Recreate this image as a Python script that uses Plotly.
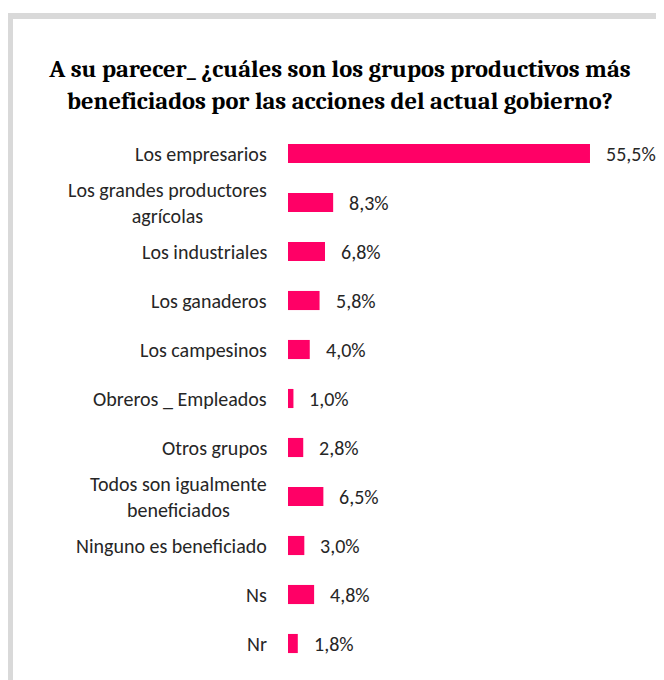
import plotly.graph_objects as go

categorias = [
    "Los empresarios",
    "Los grandes productores<br>agrícolas",
    "Los industriales",
    "Los ganaderos",
    "Los campesinos",
    "Obreros _ Empleados",
    "Otros grupos",
    "Todos son igualmente<br>beneficiados",
    "Ninguno es beneficiado",
    "Ns",
    "Nr",
]
porcentajes = [55.5, 8.3, 6.8, 5.8, 4.0, 1.0, 2.8, 6.5, 3.0, 4.8, 1.8]
etiquetas = [f"{v:.1f}%".replace(".", ",") for v in porcentajes]

# la página añade 8px de margen al cuerpo; la figura se reduce para caber
OFF = 8
W, H = 664 - OFF, 680 - OFF
ML, MT = 288 - OFF, 129 - OFF
MR = 6
MB = H - (668 - OFF)
PW, PH = W - ML - MR, H - MT - MB

ROSA = "#FF0066"
GRIS = "#D9D9D9"
TXT = "#262626"
FUENTE = "Carlito, Lato, sans-serif"


def px_x(px):
    # px en coordenadas de la página
    return (px - OFF - ML) / PW


def px_y(py):
    return (H - MB - (py - OFF)) / PH


fig = go.Figure()
fig.add_trace(go.Bar(
    x=porcentajes, y=categorias, orientation="h",
    marker=dict(color=ROSA, line=dict(width=0)),
    hoverinfo="x+y",
))

# etiquetas de categoría (centradas en varias líneas)
for c in categorias:
    fig.add_annotation(
        x=0, y=c, xref="x", yref="y", text=c, showarrow=False,
        xanchor="right", xshift=-19, align="center",
        font=dict(family=FUENTE, size=20, color=TXT),
    )

# valores
for c, v, t in zip(categorias, porcentajes, etiquetas):
    fig.add_annotation(
        x=v, y=c, xref="x", yref="y", text=t, showarrow=False,
        xanchor="left", xshift=14,
        font=dict(family=FUENTE, size=20, color=TXT),
    )

# marco gris (arriba e izquierda)
fig.add_shape(type="rect", xref="paper", yref="paper",
              x0=px_x(7), x1=px_x(680), y0=px_y(19), y1=px_y(13),
              fillcolor=GRIS, line=dict(width=0), layer="below")
fig.add_shape(type="rect", xref="paper", yref="paper",
              x0=px_x(7), x1=px_x(13), y0=px_y(700), y1=px_y(13),
              fillcolor=GRIS, line=dict(width=0), layer="below")

fig.update_layout(
    width=W, height=H,
    margin=dict(l=ML, r=MR, t=MT, b=MB),
    paper_bgcolor="white", plot_bgcolor="white",
    bargap=0.61,
    showlegend=False,
    title=dict(
        text="A su parecer_ ¿cuáles son los grupos productivos más<br>"
             "beneficiados por las acciones del actual gobierno?",
        x=(340 - OFF) / W, xanchor="center", y=1 - (77 - OFF) / H, yanchor="middle",
        font=dict(family="Caladea, 'Liberation Serif', serif", size=24.5, color="#000000", weight="bold"),
    ),
    xaxis=dict(range=[0, 68], visible=False, fixedrange=True),
    yaxis=dict(autorange="reversed", showticklabels=False, showgrid=False,
               zeroline=False, showline=False, ticks="", fixedrange=True),
)

fig.write_html("out.html")
